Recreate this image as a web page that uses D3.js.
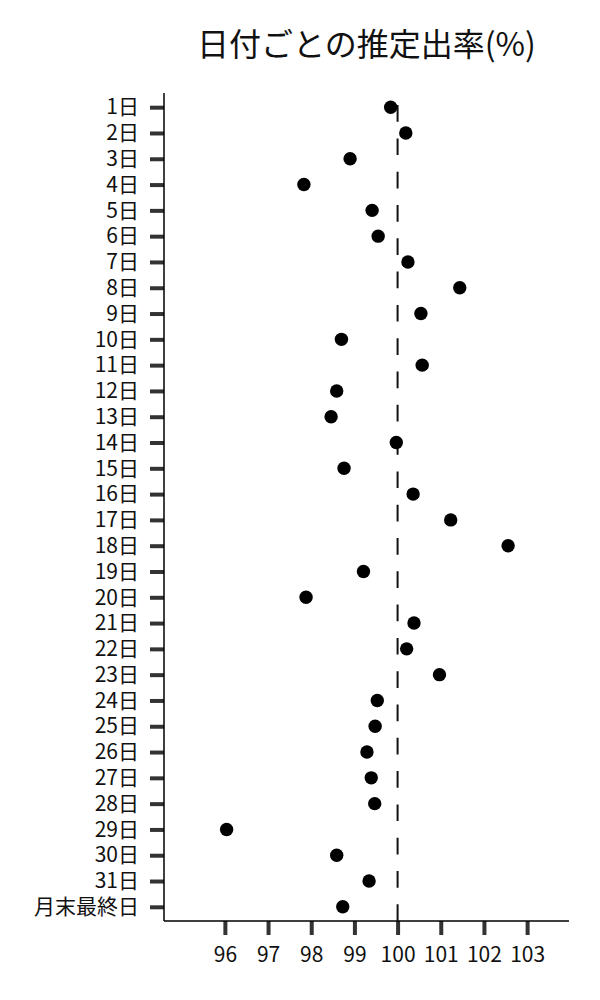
<!DOCTYPE html>
<html lang="ja">

<head>
  <meta charset="utf-8">
  <title>日付ごとの推定出率</title>
  <script src="https://d3js.org/d3.v7.min.js" charset="utf-8"></script>
  <style type="text/css">
    body {
      margin: 0;
      background: #fff;
    }

    text {
      font-family: "Noto Sans CJK JP", "Noto Sans", sans-serif;
    }

    .dot {
      fill: #000;
    }
  </style>
</head>

<body>
  <script type="text/javascript">

    // data
    var days = ["1日", "2日", "3日", "4日", "5日", "6日", "7日", "8日", "9日", "10日",
      "11日", "12日", "13日", "14日", "15日", "16日", "17日", "18日", "19日", "20日",
      "21日", "22日", "23日", "24日", "25日", "26日", "27日", "28日", "29日", "30日",
      "31日", "月末最終日"];
    var rates = [99.84, 100.19, 98.90, 97.83, 99.41, 99.55, 100.24, 101.44, 100.54, 98.70,
      100.57, 98.59, 98.46, 99.97, 98.76, 100.36, 101.23, 102.56, 99.21, 97.88,
      100.38, 100.21, 100.97, 99.53, 99.48, 99.29, 99.39, 99.47, 96.04, 98.59,
      99.34, 98.73];
    var xTicks = [96, 97, 98, 99, 100, 101, 102, 103];
    var baseline = 100;
    var title = "日付ごとの推定出率(%)";

    var data = days.map(function (d, i) {
      return { day: d, rate: rates[i] };
    });

    var W = 600, H = 1000;
    var margin = { top: 93, right: 31, bottom: 79, left: 164 };
    var w = W - margin.left - margin.right;
    var h = H - margin.top - margin.bottom;

    var svg = d3.select("body").append("svg")
      .attr("width", W)
      .attr("height", H);

    var g = svg.append("g")
      .attr("transform", "translate(" + margin.left + "," + margin.top + ")");

    var x = d3.scaleLinear()
      .domain([94.59, 103.97])
      .range([0, w]);

    var y = d3.scalePoint()
      .domain(days)
      .range([0, h])
      .padding(0.55);

    // title
    svg.append("text")
      .attr("x", margin.left + w / 2)
      .attr("y", 56)
      .attr("text-anchor", "middle")
      .attr("font-size", "32px")
      .attr("fill", "#111")
      .text(title);

    // x axis
    var xAxis = g.append("g")
      .attr("transform", "translate(0," + h + ")")
      .call(d3.axisBottom(x).tickValues(xTicks).tickSize(14).tickPadding(12).tickSizeOuter(0));

    // y axis
    var yAxis = g.append("g")
      .call(d3.axisLeft(y).tickSize(14).tickPadding(11).tickSizeOuter(0));

    [xAxis, yAxis].forEach(function (ax) {
      ax.select(".domain").remove();
      ax.selectAll(".tick line")
        .attr("stroke", "#333")
        .attr("stroke-width", 4);
      ax.selectAll(".tick text")
        .attr("font-size", "21px")
        .attr("fill", "#111")
        .style("font-family", '"Noto Sans CJK JP", "Noto Sans", sans-serif');
    });

    // spines
    g.append("line")
      .attr("x1", 0).attr("x2", 0)
      .attr("y1", 0).attr("y2", h)
      .attr("stroke", "#000")
      .attr("stroke-width", 1.5);
    g.append("line")
      .attr("x1", 0).attr("x2", w)
      .attr("y1", h).attr("y2", h)
      .attr("stroke", "#000")
      .attr("stroke-width", 1.5);

    // 100% reference line
    g.append("line")
      .attr("x1", x(baseline)).attr("x2", x(baseline))
      .attr("y1", h).attr("y2", 0)
      .attr("stroke", "#111")
      .attr("stroke-width", 2)
      .attr("stroke-dasharray", "16.7,16.6");

    // points
    g.selectAll(".dot")
      .data(data)
      .enter()
      .append("circle")
      .attr("class", "dot")
      .attr("cx", function (d) { return x(d.rate); })
      .attr("cy", function (d) { return y(d.day); })
      .attr("r", 6.7);

  </script>
</body>

</html>
